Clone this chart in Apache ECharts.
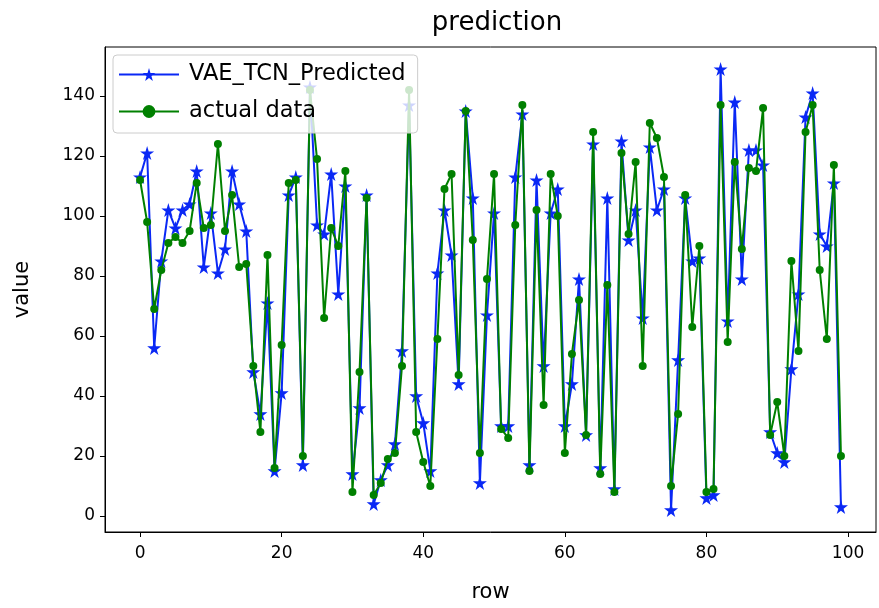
<!DOCTYPE html>
<html>
<head>
<meta charset="utf-8">
<script src="https://cdn.jsdelivr.net/npm/echarts@6/dist/echarts.min.js"></script>
<style>
  html, body { margin: 0; padding: 0; background: #fff; }
  #chart { width: 879px; height: 608px; }
</style>
</head>
<body>
<div id="chart"></div>
<script>
// values
const predicted = [
  113, 121, 56, 85, 102, 96, 102, 104, 115, 83,
  101, 81, 89, 115, 104, 95, 48, 34, 71, 15,
  41, 107, 113, 17, 143, 97, 94, 114, 74, 110,
  14, 36, 107, 4, 12, 17, 24, 55, 137, 40,
  31, 15, 81, 102, 87, 44, 135, 106, 11, 67,
  101, 30, 30, 113, 134, 17, 112, 50, 101, 109,
  30, 44, 79, 27, 124, 16, 106, 9, 125, 92,
  102, 66, 123, 102, 109, 2, 52, 106, 85, 86,
  6, 7, 149, 65, 138, 79, 122, 122, 117, 28,
  21, 18, 49, 74, 133, 141, 94, 90, 111, 3
];
const actual = [
  112, 98, 69, 82, 91, 93, 91, 95, 111, 96,
  97, 124, 95, 107, 83, 84, 50, 28, 87, 16,
  57, 111, 112, 20, 142, 119, 66, 96, 90, 115,
  8, 48, 106, 7, 11, 19, 21, 50, 142, 28,
  18, 10, 59, 109, 114, 47, 135, 92, 21, 79,
  114, 29, 26, 97, 137, 15, 102, 37, 114, 100,
  21, 54, 72, 27, 128, 14, 77, 8, 121, 94,
  118, 50, 131, 126, 113, 10, 34, 107, 63, 90,
  8, 9, 137, 58, 118, 89, 116, 115, 136, 27,
  38, 20, 85, 55, 128, 137, 82, 59, 117, 20
];
const xTicks = [0, 20, 40, 60, 80, 100];
const yTicks = [0, 20, 40, 60, 80, 100, 120, 140];

const star = "path://M50,0 L61,35 L98,35 L68,57 L79,91 L50,70 L21,91 L32,57 L2,35 L39,35 Z";
const font = "DejaVu Sans";

const chart = echarts.init(document.getElementById("chart"), null, { renderer: "canvas" });
chart.setOption({
  animation: false,
  backgroundColor: "#fff",
  textStyle: { fontFamily: font },
  title: {
    text: "prediction",
    left: 492,
    textAlign: "center",
    top: 5,
    textStyle: { fontFamily: font, fontSize: 26, fontWeight: "normal", color: "#000" }
  },
  legend: {
    left: 113,
    top: 55,
    orient: "vertical",
    backgroundColor: "rgba(255,255,255,0.8)",
    borderColor: "#cccccc",
    borderWidth: 1,
    borderRadius: 4,
    padding: [8, 12, 10, 5],
    itemWidth: 60,
    itemHeight: 16,
    itemGap: 14,
    textStyle: { fontFamily: font, fontSize: 22.5, color: "#000", padding: [0, 0, 0, 5] },
    data: ["VAE_TCN_Predicted", "actual data"]
  },
  grid: {
    left: 105,
    right: 3,
    top: 47,
    bottom: 68,
    show: true,
    borderColor: "#000",
    borderWidth: 1
  },
  xAxis: {
    type: "value",
    min: -4.95,
    max: 103.95,
    name: "row",
    nameLocation: "middle",
    nameGap: 50,
    nameTextStyle: { fontFamily: font, fontSize: 21, color: "#000" },
    axisLine: { show: true, onZero: false, lineStyle: { color: "#000" } },
    axisTick: { show: true, inside: false, length: 5, customValues: xTicks, lineStyle: { color: "#000" } },
    axisLabel: { customValues: xTicks, margin: 13, fontFamily: font, fontSize: 17, color: "#000" },
    splitLine: { show: false }
  },
  yAxis: {
    type: "value",
    min: -5.35,
    max: 156.35,
    name: "value",
    nameLocation: "middle",
    nameGap: 72,
    nameTextStyle: { fontFamily: font, fontSize: 21, color: "#000" },
    axisLine: { show: true, onZero: false, lineStyle: { color: "#000" } },
    axisTick: { show: true, inside: false, length: 5, customValues: yTicks, lineStyle: { color: "#000" } },
    axisLabel: { customValues: yTicks, margin: 10, fontFamily: font, fontSize: 17, color: "#000" },
    splitLine: { show: false }
  },
  series: [
    {
      name: "VAE_TCN_Predicted",
      type: "line",
      data: predicted.map((v, i) => [i, v]),
      symbol: star,
      symbolSize: 14,
      showAllSymbol: true,
      color: "#0a28f5",
      lineStyle: { width: 2, color: "#0a28f5" },
      itemStyle: { color: "#0a28f5" },
      z: 2
    },
    {
      name: "actual data",
      type: "line",
      data: actual.map((v, i) => [i, v]),
      symbol: "circle",
      symbolSize: 8,
      showAllSymbol: true,
      color: "#008000",
      lineStyle: { width: 2, color: "#008000" },
      itemStyle: { color: "#008000" },
      z: 3
    }
  ]
});
</script>
</body>
</html>
